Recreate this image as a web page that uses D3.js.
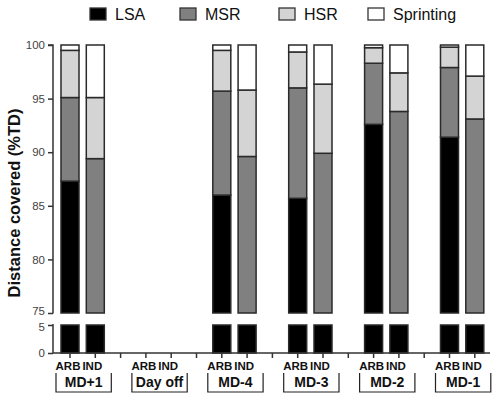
<!DOCTYPE html>
<html><head><meta charset="utf-8">
<script src="https://cdn.jsdelivr.net/npm/d3@7"></script>
<style>body{margin:0;background:#fff}svg{display:block;font-family:"Liberation Sans",Arial,sans-serif}</style>
</head><body><svg id="c" width="496" height="400"></svg>
<script>
const groups = ["MD+1","Day off","MD-4","MD-3","MD-2","MD-1"];
const teams = ["ARB","IND"];
const categories = ["LSA","MSR","HSR","Sprinting"];
const colors = ["#000000","#808080","#d4d4d4","#ffffff"];
// one value per bar: MD+1 ARB, MD+1 IND, Day off ARB, Day off IND, ...
const lsa       = [87.3, 72.0, null, null, 86.0, 71.5, 85.7, 71.0, 92.6, 74.0, 91.4, 73.0];
const msr       = [ 7.8, 17.4, null, null,  9.7, 18.1, 10.3, 18.9,  5.7, 19.8,  6.5, 20.1];
const hsr       = [ 4.4,  5.7, null, null,  3.8,  6.2, 3.35, 6.45, 1.45,  3.6,  1.9,  4.0];
const sprinting = [ 0.5,  4.9, null, null,  0.5,  4.2, 0.65, 3.65, 0.25,  2.6,  0.2,  2.9];
const topTicks = [75,80,85,90,95,100];
const bottomTicks = [0,5];

const svg = d3.select("#c");
const axisX = 53;
const x = d3.scaleLinear().domain([0,16]).range([70, 474.8]);
const yTop = d3.scaleLinear().domain([75,100]).range([313,45]);
const yBot = d3.scaleLinear().domain([0,5]).range([353,325]);
const barW = 18;

const rows = [];
groups.forEach((g,gi)=>teams.forEach((t,ti)=>{
  const k = gi*2+ti;
  if (lsa[k]==null) return;
  rows.push({slot: gi*3+ti, LSA:lsa[k], MSR:msr[k], HSR:hsr[k], Sprinting:sprinting[k]});
}));
const stacked = d3.stack().keys(categories)(rows);

function panel(yScale, lo, hi, id){
  const [r0,r1] = yScale.range();
  svg.append("clipPath").attr("id",id).append("rect")
    .attr("x",axisX).attr("y",r1-2).attr("width",496-axisX).attr("height",r0-r1+3);
  const gp = svg.append("g").attr("clip-path",`url(#${id})`);
  stacked.forEach((layer,li)=>{
    layer.forEach(d=>{
      const a = Math.max(d[0],lo), b = Math.min(d[1],hi);
      if (b<=a) return;
      gp.append("rect")
        .attr("x", x(d.data.slot)-barW/2).attr("width",barW)
        .attr("y", yScale(b)).attr("height", yScale(a)-yScale(b))
        .attr("fill", colors[li]).attr("stroke","#2a2a2a").attr("stroke-width",1.5);
    });
  });
}
panel(yTop,75,100,"clipTop");
panel(yBot,0,5,"clipBot");

// y axes (broken)
const ax1 = svg.append("g").attr("transform",`translate(${axisX},0)`)
  .call(d3.axisLeft(yTop).tickValues(topTicks).tickSize(5).tickPadding(3).tickFormat(d3.format("d")));
const ax2 = svg.append("g").attr("transform",`translate(${axisX},0)`)
  .call(d3.axisLeft(yBot).tickValues(bottomTicks).tickSize(5).tickPadding(3).tickFormat(d3.format("d")));
[ax1,ax2].forEach(a=>{
  a.selectAll("path").attr("stroke","#333").attr("stroke-width",1.5);
  a.selectAll("line").attr("stroke","#333").attr("stroke-width",1.5);
  a.selectAll("text").attr("font-size",11.5).attr("fill","#444").attr("font-family","Liberation Sans, Arial, sans-serif");
});
ax1.selectAll(".tick").filter(d=>d===75).select("text").attr("dy","0.12em");
ax2.selectAll(".tick").filter(d=>d===5).select("text").attr("dy","0.45em");
ax1.select("path").attr("d",`M-5,${yTop(100)}H0V${yTop(75)+0.5}`);
ax2.select("path").attr("d",`M0,${yBot(5)-1}V${yBot(0)}`);

// x axis
const xa = svg.append("g").attr("transform",`translate(0,${yBot(0)})`);
xa.append("line").attr("x1",axisX).attr("x2",490).attr("y1",0).attr("y2",0)
  .attr("stroke","#333").attr("stroke-width",1.5);
xa.selectAll("line.t").data(d3.range(0,17)).join("line").attr("class","t")
  .attr("x1",d=>x(d)).attr("x2",d=>x(d)).attr("y1",0).attr("y2",5)
  .attr("stroke","#333").attr("stroke-width",1.5);

// team labels and group brackets
groups.forEach((g,gi)=>{
  teams.forEach((t,ti)=>{
    svg.append("text").attr("x",x(gi*3+ti) + (ti?-3:-2)).attr("y",370).attr("text-anchor","middle")
      .attr("font-size",11.5).attr("font-weight","bold").attr("fill","#111").text(t);
  });
  const xl = x(gi*3)-14, xr = x(gi*3+1)+16;
  svg.append("path").attr("d",`M${xl},373V392H${xr}V373`).attr("fill","none")
    .attr("stroke","#222").attr("stroke-width",1.2);
  svg.append("text").attr("x",(xl+xr)/2).attr("y",387).attr("text-anchor","middle")
    .attr("font-size",14).attr("font-weight","bold").attr("fill","#111").text(g);
});

// y label
svg.append("text").attr("transform",`translate(20,203) rotate(-90)`).attr("text-anchor","middle")
  .attr("font-size",16.5).attr("font-weight","bold").attr("fill","#111").text("Distance covered (%TD)");

// legend
const legX = [90,180,279,368];
categories.forEach((c,i)=>{
  svg.append("rect").attr("x",legX[i]).attr("y",8).attr("width",16).attr("height",12)
    .attr("fill",colors[i]).attr("stroke","#333").attr("stroke-width",1.3);
  svg.append("text").attr("x",legX[i]+25).attr("y",20).attr("font-size",16).attr("fill","#111").text(c);
});
</script></body></html>
